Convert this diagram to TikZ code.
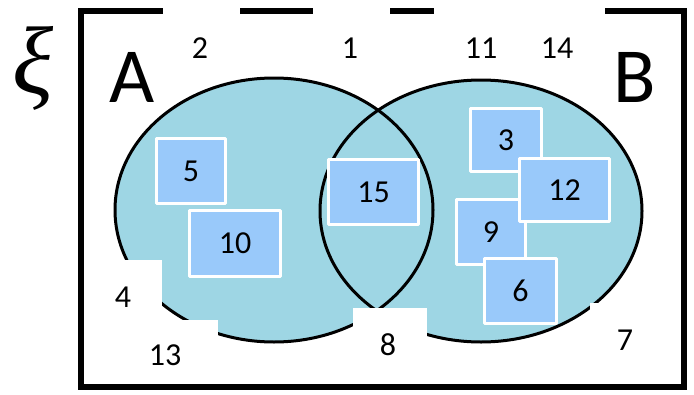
\documentclass[tikz,border=0pt]{standalone}
\usepackage{fontspec}
\setmainfont{Carlito}
\newfontfamily\xifont{Liberation Serif}

\definecolor{setblue}{RGB}{158,214,228}
\definecolor{boxblue}{RGB}{153,201,250}
\newcommand\numfont{\fontsize{32}{36}\selectfont}
\newcommand\setfont{\fontsize{78}{80}\selectfont}

\tikzset{
  numbox/.style={draw=white, line width=3pt, fill=boxblue,
    inner sep=0pt, font=\numfont},
  num/.style={inner sep=0pt, font=\numfont},
  patch/.style={fill=white}
}

\begin{document}
\begin{tikzpicture}[
  x=1pt,
  y=-1pt,
  line cap=round,
  line join=round
]
  \useasboundingbox (0,0) rectangle (694,394);

  % Рамка
  \draw[line width=6pt, line join=miter]
    (80.5,11) rectangle (684,387);

  % Множества A и B
  \fill[setblue]
    (274,210) ellipse[x radius=159, y radius=132];
  \fill[setblue]
    (481,211) ellipse[x radius=161, y radius=131];

  \draw[line width=3pt]
    (274,210) ellipse[x radius=159, y radius=132];
  \draw[line width=3pt]
    (481,211) ellipse[x radius=161, y radius=131];

  % Белые заплатки под числами
  \fill[patch] (163,5) rectangle (240,74);
  \fill[patch] (313,5) rectangle (390,74);
  \fill[patch] (434,5) rectangle (605,74);
  \fill[patch] (87,260) rectangle (162,320);
  \fill[patch] (87,320) rectangle (218,378);
  \fill[patch] (353,308) rectangle (427,376);
  \fill[patch] (590,303) rectangle (672,376);

  % Числа вне кругов
  \node[num] (n2)  at (200,48) {2};
  \node[num] (n1)  at (350,48) {1};
  \node[num] (n11) at (481,48) {11};
  \node[num] (n14) at (557,48) {14};
  \node[num] (n4)  at (123,297) {4};
  \node[num] (n13) at (165,355) {13};
  \node[num] (n8)  at (388,345) {8};
  \node[num] (n7)  at (625,340) {7};

  % Числа в кругах
  \node[numbox, minimum width=69, minimum height=65]
    (b5) at (191,171) {5};
  \node[numbox, minimum width=91, minimum height=66]
    (b10) at (235,243.5) {10};
  \node[numbox, minimum width=90, minimum height=65]
    (b15) at (373.5,192) {15};
  \node[numbox, minimum width=69, minimum height=65]
    (b9) at (491,232) {9};
  \node[numbox, minimum width=71, minimum height=63]
    (b3) at (506,140) {3};
  \node[numbox, minimum width=90, minimum height=63]
    (b12) at (564.5,190) {12};
  \node[numbox, minimum width=72, minimum height=65]
    (b6) at (520.5,291) {6};

  % Подписи
  \node[inner sep=0pt, font=\setfont] (A) at (132,77) {A};
  \node[inner sep=0pt, font=\setfont] (B) at (635,77) {B};
  \node[inner sep=0pt, anchor=base,
    font=\xifont\itshape\fontsize{96}{96}\selectfont]
    (xi) at (33,93) {ξ};
\end{tikzpicture}
\end{document}
